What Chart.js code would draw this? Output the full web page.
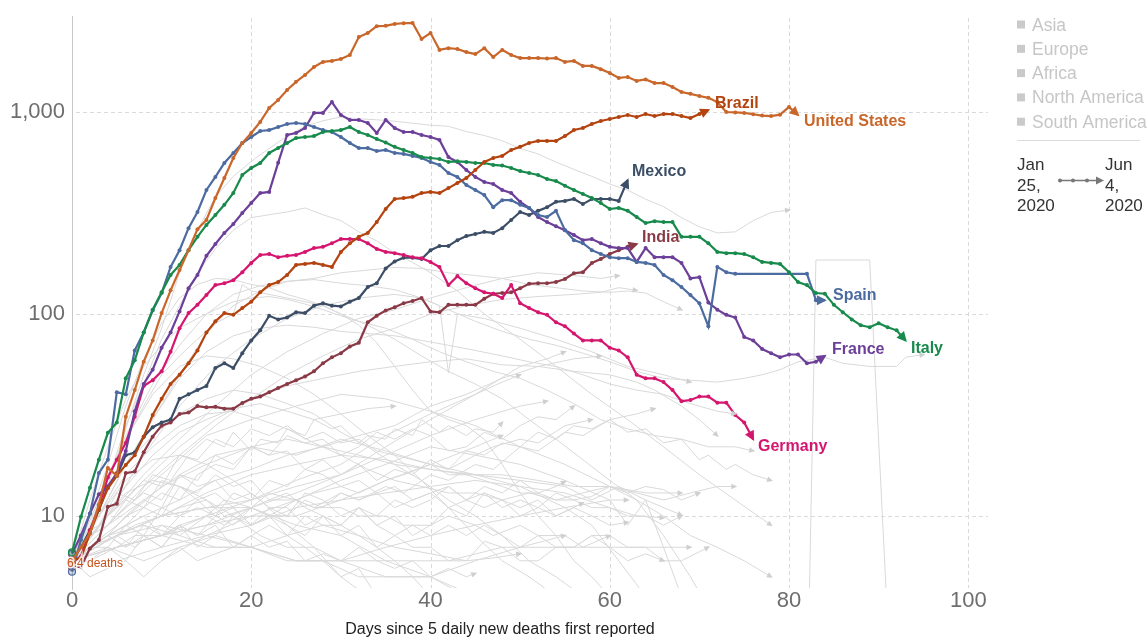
<!DOCTYPE html>
<html>
<head>
<meta charset="utf-8">
<title>Daily new deaths</title>
<script src="https://cdn.jsdelivr.net/npm/chart.js@4.4.1/dist/chart.umd.min.js"></script>
<style>
  html, body { margin: 0; padding: 0; background: #fff; }
  #wrap { width: 1147px; height: 637px; }
</style>
</head>
<body>
<div id="wrap"><canvas id="chart" width="1147" height="637"></canvas></div>
<script>
const FONT = '"Liberation Sans", Arial, Helvetica, sans-serif';

// axis setup
const xTicks = [0, 20, 40, 60, 80, 100];
const yTicks = [10, 100, 1000];
const X_MAX = 102.2;
const Y_MIN = 4.4;
const Y_MAX = 2987;
const regions = ["Asia", "Europe", "Africa", "North America", "South America"];
const axisTitle = "Days since 5 daily new deaths first reported";

// highlighted countries, one value per day since day 0
const unitedStates = [6.0, 7.0, 8.2, 11.4, 17.3, 15.8, 31, 42, 58, 74,
  101, 131, 165, 207, 263, 292, 375, 471, 592, 702,
  787, 893, 1047, 1147, 1285, 1410, 1525, 1670, 1770, 1790,
  1830, 1915, 2350, 2460, 2660, 2670, 2730, 2750, 2760, 2300,
  2460, 2030, 2070, 2050, 1980, 1935, 2070, 1870, 2030, 1915,
  1850, 1850, 1850, 1840, 1850, 1770, 1790, 1690, 1690, 1630,
  1560, 1475, 1490, 1425, 1450, 1390, 1390, 1330, 1255, 1230,
  1200, 1175, 1120, 1000, 995, 990, 975, 960, 955, 970,
  1060, 966];
const brazil = [6.0, 6.2, 8.2, 10.8, 13.7, 15.8, 17.9, 20, 24.7, 31.6,
  38, 45, 50, 57, 66, 81, 92, 101, 99, 107,
  115, 128, 139, 144, 156, 175, 177, 179, 175, 171,
  203, 224, 241, 252, 285, 331, 371, 375, 380, 397,
  402, 397, 420, 445, 471, 516, 566, 592, 606, 649,
  672, 702, 719, 719, 719, 760, 814, 833, 872, 902,
  923, 945, 966, 945, 977, 955, 977, 977, 955, 934,
  977, 1023];
const mexico = [6.0, 7.0, 8.5, 10.7, 14, 15.8, 20, 20.6, 24.7, 27.5,
  29, 30, 38, 40, 42, 44, 54, 57, 54, 64,
  74, 83, 98, 94, 96, 102, 101, 110, 113, 110,
  109, 115, 120, 136, 142, 168, 182, 190, 190, 187,
  207, 217, 217, 232, 243, 249, 255, 252, 266, 292,
  320, 309, 324, 338, 359, 363, 371, 350, 371, 371,
  371, 363, 460];
const india = [5.6, 5.6, 6.9, 7.6, 11.1, 11.5, 16.3, 16.6, 20.7, 24.7,
  28, 29, 32, 32.5, 35, 34.5, 34.7, 34, 34, 36.3,
  38, 39, 41, 43, 45, 47, 49, 52, 57, 61,
  64, 69, 72, 91, 98, 104, 108, 113, 116, 120,
  103, 102, 111, 111, 111, 111, 119, 126, 127, 128,
  134, 141, 142, 142, 144, 149, 159, 161, 179, 187,
  198, 207, 215, 222];
const spain = [5.3, 7.6, 10.3, 16.3, 19, 41, 40, 66, 81, 104,
  127, 171, 207, 266, 320, 411, 477, 559, 627, 702,
  752, 805, 814, 843, 872, 882, 872, 843, 814, 796,
  752, 702, 663, 663, 641, 649, 627, 620, 606, 592,
  566, 547, 499, 477, 435, 411, 388, 338, 366, 366,
  347, 335, 309, 302, 324, 260, 232, 224, 207, 198,
  191, 189, 189, 181, 179, 175, 156, 147, 136, 124,
  113, 87, 171, 161, 158, null, null, null, null, null,
  null, null, 158, 117, 117];
const italy = [6.6, 9.9, 13.8, 19, 25.8, 29, 48, 59, 81, 105,
  128, 156, 175, 207, 241, 276, 309, 347, 397, 488,
  528, 559, 627, 663, 702, 743, 752, 760, 796, 805,
  814, 843, 796, 769, 735, 707, 672, 649, 627, 598,
  592, 585, 566, 570, 566, 559, 559, 547, 543, 528,
  510, 499, 488, 466, 455, 431, 411, 393, 375, 354,
  331, 335, 324, 302, 282, 288, 285, 285, 241, 241,
  241, 224, 203, 200, 200, 198, 191, 181, 179, 177,
  161, 144, 139, 127, 126, 111, 102, 94, 88, 86,
  90, 86, 83, 74];
const france = [6.5, 8, 10.3, 12.8, 14, 16.3, 21, 33, 45, 53,
  68, 81, 103, 134, 156, 194, 222, 252, 279, 316,
  354, 397, 402, 560, 769, 787, 833, 989, 989, 1120,
  966, 913, 913, 882, 787, 913, 833, 796, 796, 769,
  752, 727, 598, 566, 516, 477, 450, 440, 411, 397,
  359, 335, 302, 285, 272, 260, 246, 232, 235, 224,
  215, 212, 212, 181, 212, 191, 191, 191, 179, 150,
  152, 114, 105, 99, 96, 77, 74, 67, 64, 61,
  63, 63, 57, 58, 62];
const germany = [5.9, 6.3, 8.5, 11.1, 15.5, 19, 23, 31, 44, 47,
  52, 65, 85, 101, 111, 124, 139, 142, 147, 161,
  179, 196, 198, 191, 194, 196, 203, 212, 215, 224,
  235, 235, 235, 224, 210, 203, 200, 196, 191, 189,
  181, 171, 139, 154, 142, 134, 128, 126, 120, 139,
  113, 107, 102, 99, 91, 87, 80, 74, 74, 74,
  68, 66, 61, 50, 48, 48, 46, 42, 37, 37.5,
  39, 39, 36.4, 36.4, 31.6, 29, 24];

// the other countries, greyed out: [day, deaths]
const otherCountries = [
  [[0,6],[2,8],[4,14],[6,27],[8,50],[10,85],[12,160],[14,260],[16,380],[18,480],[20,570],[22,660],[24,760],[26,850],[28,905],[30,945],[32,925],[34,915],[36,900],[38,880],[40,860],[42,850],[44,800],[46,765],[48,720],[50,660],[52,620],[54,565],[56,520],[58,480],[60,440],[62,410],[64,370],[66,340],[68,300],[70,270],[72,252],[74,255],[76,290],[78,318],[80,327]],
  [[0,6],[2,9],[4,15],[6,28],[8,45],[10,75],[12,110],[14,160],[16,210],[18,260],[20,300],[22,310],[24,320],[26,335],[28,310],[30,290],[32,255],[34,230],[36,200],[38,180],[40,160],[43,130],[46,100],[50,75],[54,55],[58,40],[62,30],[66,22],[70,16],[74,12],[78,9]],
  [[0,6],[2,10],[4,18],[6,35],[8,60],[10,90],[12,120],[14,140],[16,150],[18,148],[20,140],[22,135],[24,125],[26,118],[28,110],[30,100],[33,88],[36,75],[39,62],[42,52],[45,45],[48,38],[51,30],[54,24],[57,19],[60,15],[63,12],[66,10],[69,8],[72,7],[75,6],[78,5]],
  [[0,6],[3,10],[6,18],[9,30],[12,50],[15,80],[18,110],[21,130],[24,145],[27,150],[30,160],[33,165],[36,170],[39,168],[42,160],[45,155],[48,150],[51,140],[54,135],[57,130],[60,128],[62,130],[64,127],[66,115],[68,105]],
  [[0,6],[2,12],[4,22],[6,38],[8,55],[10,70],[12,85],[14,95],[16,105],[18,115],[20,120],[22,122],[24,118],[26,112],[28,105],[30,98],[32,92],[35,85],[38,75],[41,65],[44,58],[47,52],[50,48],[53,42],[56,36],[59,30],[62,27],[65,25],[68,24],[71,22],[74,22],[76,21]],
  [[0,6],[3,12],[6,25],[9,45],[12,70],[15,100],[18,125],[21,138],[24,145],[27,148],[30,142],[33,138],[36,132],[39,120],[42,105],[45,92],[48,82],[51,75],[54,70],[57,64],[60,58],[63,52],[66,48],[69,47],[72,46],[75,48],[77,50],[79,53],[81,58],[84,61],[86,57],[89,55],[92,55],[93,61],[95,63]],
  [[0,7],[2,10],[4,16],[6,24],[8,35],[10,50],[12,62],[14,75],[16,90],[18,100],[19,140],[20,130],[22,125],[24,120],[26,115],[28,110],[30,100],[32,88],[34,72],[36,55],[38,42],[40,33],[42,30],[44,28],[46,24],[48,18],[50,13],[52,10],[54,8],[56,6],[58,5],[60,4],[62,3],[66,2],[70,1],[82,1],[83,185],[89,185],[91,3],[93,1]],
  [[0,6],[4,9],[8,14],[12,20],[16,28],[20,38],[24,50],[28,62],[32,75],[36,85],[40,100],[44,110],[48,118],[52,122],[56,125],[59,128],[61,135],[63,131]],
  [[0,6],[4,10],[8,16],[12,24],[16,35],[20,50],[24,65],[28,80],[32,95],[36,105],[40,120],[44,135],[48,150],[52,160],[56,155],[59,150],[61,155]],
  [[0,6],[3,10],[6,18],[9,30],[12,48],[15,65],[18,78],[21,85],[24,88],[27,86],[30,82],[33,80],[36,78],[39,74],[42,70],[45,66],[48,62],[51,58],[54,55],[57,50],[60,45],[63,42],[66,40],[69,36],[72,33],[74,32]],
  [[0,6],[3,12],[6,24],[9,40],[12,55],[15,62],[18,60],[21,55],[24,48],[27,40],[30,32],[33,25],[36,20],[39,15],[42,11],[45,8],[48,6],[51,5],[54,4],[57,3]],
  [[0,6],[4,10],[8,20],[12,35],[16,55],[20,75],[24,95],[28,110],[32,120],[36,125],[39,120],[41,110],[42,51],[43,100],[46,95],[50,85],[54,75],[58,65],[62,55],[66,50],[69,46]],
  [[0,6],[2,7],[4,8],[6,10],[8,11],[10,13],[12,12],[14,16],[16,18],[18,17],[20,22],[22,20],[24,25],[26,23],[28,24],[30,20],[32,22],[34,26],[36,24],[38,27],[40,25],[42,21],[44,22],[46,26],[48,24],[50,28],[52,31],[54,30],[56,35]],
  [[0,6],[1,8],[3,9],[5,13],[7,12],[9,16],[11,15],[13,20],[15,24],[17,22],[18,26],[20,21],[21,24],[23,23],[24,27],[26,25],[27,30],[29,27],[30,28],[32,23],[33,25],[35,24],[36,27],[38,25],[39,30],[41,26],[42,28],[44,25],[45,27],[47,26],[48,29]],
  [[0,6],[4,10],[8,15],[12,22],[16,30],[20,38],[24,44],[28,48],[32,52],[36,55],[40,58],[44,60],[48,56],[52,55],[56,52],[60,50],[63,46],[65,42],[68,35],[70,30],[72,25]],
  [[0,6],[2,7],[4,8],[6,10],[8,12],[10,11],[12,16],[14,15],[16,20],[18,18],[20,22],[22,20],[24,21],[26,17],[28,19],[30,16],[32,18],[34,15],[36,17],[38,16],[40,19],[42,17],[44,21],[46,20],[48,23],[50,22],[52,26],[54,24],[56,28],[58,27],[60,30],[62,26],[64,27],[66,23],[68,24],[70,19],[71,20],[73,17],[74,18],[76,16],[78,15]],
  [[0,6],[2,7],[4,8],[6,7],[8,8],[10,7],[12,9],[14,8],[16,9],[18,7],[20,8],[22,9],[24,8],[26,10],[28,9],[30,9],[32,11],[34,10],[36,12],[38,11],[40,12],[42,14],[44,12],[46,13],[48,11],[50,12],[52,11],[54,13],[56,12],[58,12.5],[60,14],[62,13],[64,14],[66,13.5],[68,12],[70,13]],
  [[0,6],[3,9],[6,14],[9,20],[12,26],[15,30],[18,34],[21,36],[24,33],[27,30],[30,32],[33,34],[36,35]],
  [[0,6],[2,7],[4,7],[6,9],[8,8],[10,11],[12,10],[14,12],[16,10],[18,13],[20,12],[22,15],[24,14],[26,17],[28,16],[30,14],[32,15],[34,13],[36,14],[38,12],[40,13],[42,11],[44,12],[46,14],[48,13],[50,15],[52,13],[54,14],[55,14.8]],
  [[0,6],[2,7],[4,8],[6,9],[8,10],[10,8],[12,9],[14,7],[16,8],[18,10],[20,9],[22,11],[24,10],[26,13],[28,12],[30,10],[32,11],[34,9],[36,10],[38,8],[40,9],[42,11],[44,10],[46,13],[48,12],[50,10],[52,11],[54,10],[57,11.6]],
  [[0,6],[5,6],[10,7],[15,8],[20,9],[25,11],[30,12],[35,13],[40,14],[45,15],[50,14],[55,13],[60,11],[63,10],[66,9.8]],
  [[0,6],[2,6],[4,7],[6,6],[8,8],[10,7],[12,9],[14,8],[16,10],[18,9],[20,11],[22,10],[24,10],[26,12],[28,11],[30,13],[32,12],[34,13],[36,11],[38,12],[40,13],[42,14],[44,12],[46,11],[48,12],[50,11],[52,12],[54,10],[56,11],[58,10],[60,9],[62,9.3]],
  [[0,6],[4,7],[8,6],[12,7],[16,8],[20,7],[24,8],[28,9],[32,8],[36,7],[40,6.5],[44,6],[47,6.2],[50,6.5]],
  [[0,6],[2,5],[4,5.5],[6,6],[8,5],[10,6],[12,7],[14,6],[16,6.5],[18,7],[20,8],[22,7],[24,7.5],[26,6],[28,6.5],[30,6],[32,7],[34,6],[36,5.5],[38,6],[40,5],[42,5.5],[44,5],[45,5.2]],
  [[0,6],[2,7],[4,8],[6,7],[8,9],[10,8],[12,10],[14,11],[16,10],[18,11],[20,9],[22,10],[24,9],[26,8],[28,10],[30,9],[32,11],[34,9],[36,8],[38,9],[40,8],[42,9],[44,8],[46,9],[48,8],[50,7],[52,8],[54,7],[56,7],[58,8],[60,7],[62,6],[64,6.5],[66,6]],
  [[0,6],[5,8],[10,10],[15,13],[20,16],[25,18],[30,20],[35,19],[40,17],[45,16],[50,15],[55,14],[58,12],[61,14],[64,12],[68,10.1]],
  [[0,6],[3,10],[6,18],[9,25],[12,32],[15,38],[18,42],[21,40],[24,36],[27,32],[30,26],[33,22],[36,18],[39,15],[42,12],[45,10],[48,8],[51,6],[54,5],[57,4],[60,3]],
  [[0,6],[3,10],[6,15],[9,19],[12,20],[15,18],[18,15],[21,12],[24,9],[27,7],[30,5],[33,4],[36,3]],
  [[0,6],[2,8],[4,9],[6,12],[8,11],[10,15],[12,14],[14,12],[16,13],[18,11],[20,9],[22,10],[24,8],[26,7],[28,6],[30,5],[32,5.5],[34,4],[36,3]],
  [[0,6],[2,7],[4,8],[6,9],[8,11],[10,10],[12,14],[14,13],[16,16],[18,14],[20,15],[22,12],[24,13],[26,11],[28,10],[30,9],[32,8],[34,7],[36,6],[38,5],[40,4],[44,3]],
  [[0,6],[5,8],[10,10],[15,11],[20,11],[25,9],[30,8],[35,6],[40,5],[45,4],[50,3]],
  [[0,6],[4,8],[8,10],[12,12],[16,15],[20,17],[24,20],[28,22],[32,25],[36,28],[40,35],[44,40],[48,48],[52,55],[56,60],[59,62]],
  [[0,6],[2,7],[5,8],[7,7],[10,9],[12,8],[15,10],[17,9],[20,11],[22,10],[25,12],[27,11],[30,13],[32,12],[35,14],[37,13],[40,16],[42,15],[45,18],[47,17],[50,22],[52,21],[55,26],[57,25],[60,30],[63,32],[65,34]],
  [[0,6],[3,10],[6,16],[9,22],[12,28],[15,32],[18,33],[21,30],[24,27],[27,23],[30,20],[33,17],[36,15],[39,14],[42,13],[45,13],[48,12],[51,13],[54,12],[57,13],[60,14],[63,13],[66,12],[69,13],[72,14],[74,14]],
  [[0,6],[2,8],[4,10],[6,12],[8,15],[10,14],[12,20],[14,19],[16,24],[18,22],[20,27],[22,25],[24,28],[26,24],[28,26],[30,23],[32,24],[34,21],[36,20],[38,19],[40,18],[42,16],[44,16],[46,15],[48,14],[50,13],[52,13],[54,12],[56,12],[58,11],[60,11],[62,10],[64,10],[66,9],[68,10]],
  [[0,6],[4,9],[8,12],[12,16],[16,20],[20,22],[24,24],[28,22],[32,20],[36,18],[40,17],[44,16],[48,16],[52,15],[56,14],[60,14],[64,13],[68,13]],
  [[0,6],[2,8],[4,9],[6,11],[8,13],[10,12],[12,16],[14,14],[16,15],[18,12],[20,13],[22,11],[24,11],[26,9],[28,10],[30,8],[32,9],[34,7],[36,8],[38,7],[40,7],[42,6],[44,6],[46,7.5],[48,7],[50,6],[52,6],[54,7],[56,7],[58,8],[60,8],[62,7],[64,7],[66,6],[68,6],[71,7]],
  [[0,6],[5,7],[10,8],[15,10],[20,12],[25,15],[30,18],[35,25],[40,32],[45,40],[48,46],[50,50]],
  [[0,6],[5,7],[10,8],[15,9],[20,11],[25,13],[30,16],[35,22],[40,30],[45,40],[50,55],[53,60],[55,65]],
  [[0,6],[5,8],[10,10],[15,11],[20,12],[25,14],[30,16],[35,20],[40,25],[45,30],[50,35],[53,37]],
  [[0,6],[2,7],[5,8],[7,9],[10,10],[12,11],[15,12],[17,10],[20,11],[22,12],[25,12],[27,13],[30,14],[32,13],[35,15],[37,16],[40,18],[42,17],[45,20],[47,22],[50,24],[52,23],[55,28],[58,30]],
  [[0,6],[3,9],[6,13],[9,15],[12,14],[15,12],[18,10],[21,8],[24,7],[27,7],[30,6],[36,6],[42,6],[48,7],[54,7],[60,7],[66,7],[69,7]],
  [[0,6],[5,7],[10,8],[15,7],[20,7],[25,6],[30,6],[35,7],[40,8],[45,9],[50,10],[55,11],[60,12],[62,12]],
  [[0,6],[4,8],[8,9],[12,8],[16,7],[20,7],[24,6],[28,6],[32,5],[36,5],[40,5],[44,4],[48,4]],
  [[0,6],[2,6],[5,7],[7,8],[10,8],[12,9],[15,10],[17,12],[20,11],[22,13],[25,12],[27,11],[30,11],[32,10],[35,10],[37,9],[40,9],[42,10],[45,9],[47,8],[50,9],[52,8],[55,8],[57,7],[60,8]],
  [[0,6],[5,7],[10,8],[15,9],[20,10],[25,10],[30,12],[35,15],[40,18],[45,22],[48,25]],
  [[0,6],[5,8],[10,9],[15,8],[20,7],[25,6],[30,6],[35,5],[40,5],[45,6],[50,7],[55,8]],
  [[0,6],[5,9],[10,14],[15,18],[20,22],[25,20],[30,24],[35,21],[40,18],[45,16],[50,14],[55,11],[58,9],[61,6],[64,4],[67,3]],
  [[0,6],[5,10],[10,16],[15,25],[20,30],[25,35],[30,40],[35,38],[40,33],[45,28],[50,22],[55,18],[60,14],[63,12],[66,8],[69,5],[71,3.5]],
  [[10,6],[15,8],[20,10],[25,12],[30,15],[35,18],[40,22],[45,20],[50,18],[55,15],[60,12],[62,9],[64,12],[66,7],[68,4]]
];

const highlighted = [
  { name: "United States", values: unitedStates, color: "#c9662a" },
  { name: "Brazil", values: brazil, color: "#b3430f" },
  { name: "Italy", values: italy, color: "#178a4c" },
  { name: "Spain", values: spain, color: "#4c6ba0" },
  { name: "France", values: france, color: "#6c3f99" },
  { name: "Germany", values: germany, color: "#d5166f" },
  { name: "Mexico", values: mexico, color: "#3c4e66" },
  { name: "India", values: india, color: "#8a3a46" }
];

// where the country names sit (canvas px, text baseline)
const labelAt = {
  "Brazil": [715, 108], "United States": [804, 126], "Mexico": [632, 176],
  "India": [642, 242], "Spain": [833, 300], "Italy": [911, 353],
  "France": [832, 354], "Germany": [758, 451]
};

function hexA(hex, a) {
  const n = parseInt(hex.slice(1), 16);
  return `rgba(${n >> 16},${(n >> 8) & 255},${n & 255},${a})`;
}

const datasets = [];
highlighted.forEach((c) => {
  const last = c.values.length - 1;
  datasets.push({
    label: c.name,
    data: c.values.map((v, i) => ({ x: i, y: v })),
    borderColor: c.color,
    backgroundColor: c.color,
    borderWidth: 2.2,
    tension: 0,
    spanGaps: true,
    order: 0,
    clip: { left: 8, top: 2, right: 2, bottom: 2 },
    pointRadius: (ctx) => (ctx.dataIndex === 0 ? 3.5 : ctx.dataIndex === last ? 0 : 2),
    pointBackgroundColor: (ctx) => (ctx.dataIndex === 0 ? hexA(c.color, 0.3) : c.color),
    pointBorderColor: c.color,
    pointBorderWidth: (ctx) => (ctx.dataIndex === 0 ? 1.2 : 0),
    isHighlight: true
  });
});
otherCountries.forEach((pts, i) => {
  datasets.push({
    label: "other " + i,
    data: pts.map(([x, y]) => ({ x, y })),
    borderColor: "#d9d9d9",
    borderWidth: 1,
    tension: 0,
    pointRadius: 0,
    order: 1,
    isHighlight: false
  });
});

function line(ctx, x1, y1, x2, y2) {
  ctx.beginPath();
  ctx.moveTo(x1, y1);
  ctx.lineTo(x2, y2);
  ctx.stroke();
}

function arrowHead(ctx, a, b, len, half, color) {
  const ang = Math.atan2(b.y - a.y, b.x - a.x);
  ctx.save();
  ctx.translate(b.x + Math.cos(ang) * 2, b.y + Math.sin(ang) * 2);
  ctx.rotate(ang);
  ctx.beginPath();
  ctx.moveTo(0, 0);
  ctx.lineTo(-len, -half);
  ctx.lineTo(-len, half);
  ctx.closePath();
  ctx.fillStyle = color;
  ctx.fill();
  ctx.restore();
}

const decor = {
  id: "decor",
  beforeDatasetsDraw(chart) {
    const { ctx, chartArea: { left, right, top, bottom }, scales: { x, y } } = chart;
    ctx.save();
    ctx.strokeStyle = "#dadada";
    ctx.lineWidth = 1;
    ctx.setLineDash([4, 3]);
    xTicks.filter((v) => v > 0).forEach((v) => {
      const px = Math.round(x.getPixelForValue(v)) + 0.5;
      line(ctx, px, top + 2, px, bottom);
    });
    yTicks.forEach((v) => {
      const py = Math.round(y.getPixelForValue(v)) + 0.5;
      line(ctx, left + 4, py, right, py);
    });
    ctx.setLineDash([]);
    ctx.strokeStyle = "#c9c9c9";
    line(ctx, Math.round(left) + 0.5, top, Math.round(left) + 0.5, bottom + 2);
    ctx.restore();
  },
  afterDatasetsDraw(chart) {
    const { ctx, chartArea } = chart;
    ctx.save();
    // grey arrows first, then the coloured ones on top
    const order = chart.data.datasets.map((d, i) => i).sort((a, b) =>
      (chart.data.datasets[a].isHighlight ? 1 : 0) - (chart.data.datasets[b].isHighlight ? 1 : 0));
    order.forEach((i) => {
      const ds = chart.data.datasets[i];
      const pts = chart.getDatasetMeta(i).data.filter((p) => !p.skip);
      if (pts.length < 2) return;
      const a = pts[pts.length - 2], b = pts[pts.length - 1];
      if (b.y > chartArea.bottom || b.y < chartArea.top) return;
      if (ds.isHighlight) arrowHead(ctx, a, b, 10, 5, ds.borderColor);
      else arrowHead(ctx, a, b, 6, 2.8, "#cfcfcf");
    });
    ctx.restore();
  },
  afterDraw(chart) {
    const { ctx } = chart;
    ctx.save();
    // country names
    ctx.font = `bold 16px ${FONT}`;
    ctx.textBaseline = "alphabetic";
    ctx.textAlign = "left";
    highlighted.forEach((c) => {
      const [lx, ly] = labelAt[c.name];
      ctx.fillStyle = c.color;
      ctx.fillText(c.name, lx, ly);
    });
    // start annotation
    ctx.font = `12px ${FONT}`;
    ctx.lineWidth = 3;
    ctx.strokeStyle = "rgba(255,255,255,0.85)";
    ctx.strokeText("6.4 deaths", 67, 567);
    ctx.fillStyle = "#c4521c";
    ctx.fillText("6.4 deaths", 67, 567);
    // axis title
    ctx.font = `16px ${FONT}`;
    ctx.fillStyle = "#222";
    ctx.textAlign = "center";
    ctx.fillText(axisTitle, 500, 634);
    // region legend (all greyed out)
    ctx.textAlign = "left";
    ctx.font = `17.5px ${FONT}`;
    regions.forEach((r, i) => {
      const cy = 24.5 + i * 24.3;
      ctx.fillStyle = "#cacaca";
      ctx.fillRect(1017, cy - 4, 8, 8);
      ctx.fillStyle = "#c6c6c6";
      ctx.fillText(r, 1032, cy + 6);
    });
    ctx.strokeStyle = "#dcdcdc";
    ctx.lineWidth = 1;
    line(ctx, 1017, 140.5, 1140, 140.5);
    // time span legend
    ctx.font = `17px ${FONT}`;
    ctx.fillStyle = "#333";
    ["Jan", "25,", "2020"].forEach((t, i) => ctx.fillText(t, 1017, 170 + i * 20.5));
    ["Jun", "4,", "2020"].forEach((t, i) => ctx.fillText(t, 1105, 170 + i * 20.5));
    ctx.strokeStyle = "#777";
    ctx.fillStyle = "#777";
    ctx.lineWidth = 1.3;
    line(ctx, 1059, 180.5, 1098, 180.5);
    [1060, 1073, 1087].forEach((dx) => {
      ctx.beginPath();
      ctx.arc(dx, 180.5, 2, 0, Math.PI * 2);
      ctx.fill();
    });
    ctx.beginPath();
    ctx.moveTo(1104, 180.5);
    ctx.lineTo(1096, 176.5);
    ctx.lineTo(1096, 184.5);
    ctx.closePath();
    ctx.fill();
    ctx.restore();
  }
};

Chart.defaults.font.family = FONT;

new Chart(document.getElementById("chart"), {
  type: "line",
  data: { datasets },
  options: {
    responsive: false,
    animation: false,
    devicePixelRatio: 1,
    events: [],
    layout: { padding: { left: 0, right: 159, top: 16, bottom: 0 } },
    plugins: { legend: { display: false }, tooltip: { enabled: false } },
    scales: {
      x: {
        type: "linear",
        min: 0,
        max: X_MAX,
        afterBuildTicks: (s) => { s.ticks = xTicks.map((v) => ({ value: v })); },
        afterFit: (s) => { s.height = 49; s.paddingLeft = 0; s.paddingRight = 0; },
        grid: { display: false, drawTicks: false },
        border: { display: false },
        ticks: {
          color: "#6e6e6e",
          font: { size: 22, lineHeight: 1 },
          padding: 2,
          maxRotation: 0,
          autoSkip: false
        }
      },
      y: {
        type: "logarithmic",
        min: Y_MIN,
        max: Y_MAX,
        afterBuildTicks: (s) => { s.ticks = yTicks.map((v) => ({ value: v })); },
        afterFit: (s) => { s.width = 72; s.paddingTop = 0; s.paddingBottom = 0; },
        grid: { display: false, drawTicks: false },
        border: { display: false },
        ticks: {
          color: "#6e6e6e",
          font: { size: 22 },
          padding: 7,
          callback: (v) => Number(v).toLocaleString("en-US")
        }
      }
    }
  },
  plugins: [decor]
});
</script>
</body>
</html>
